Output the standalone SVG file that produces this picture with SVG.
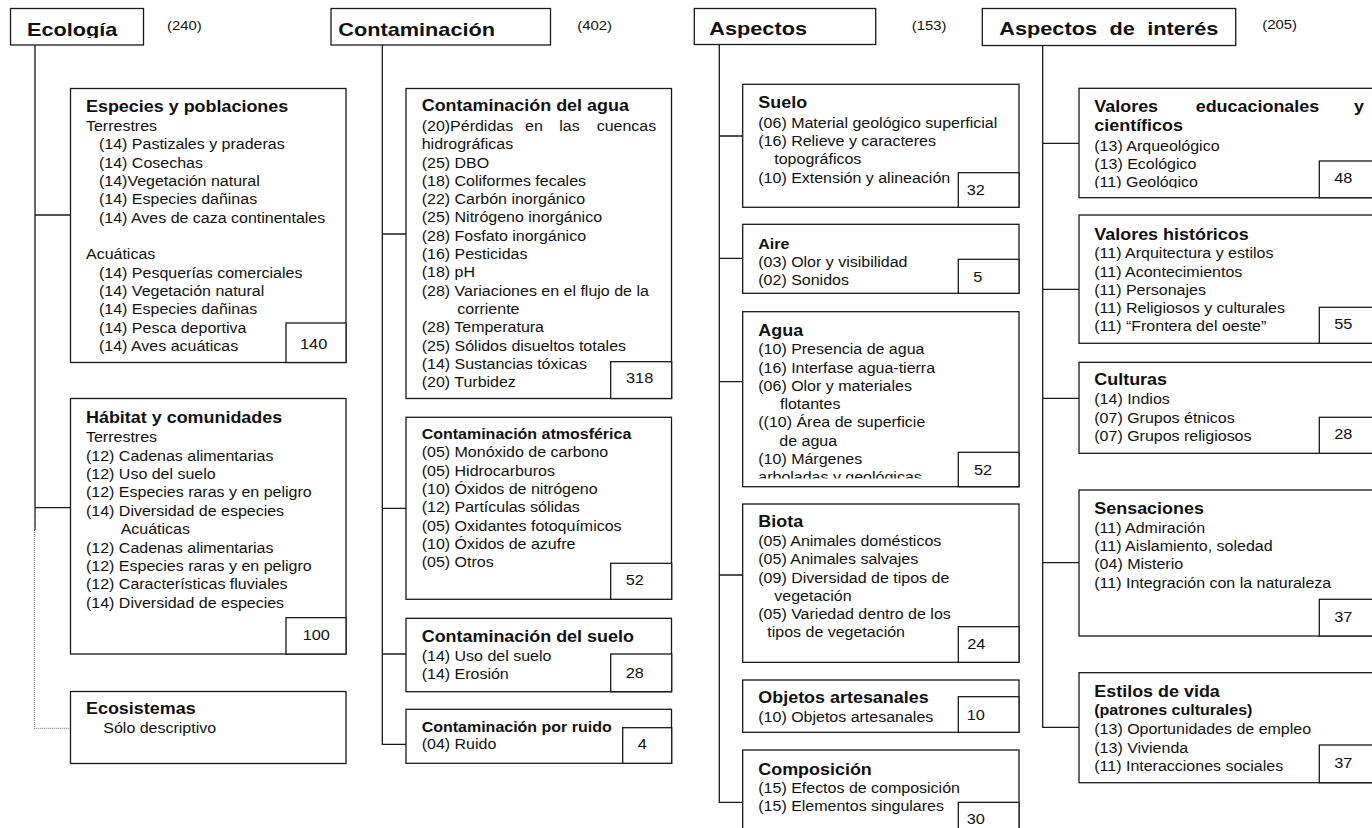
<svg xmlns="http://www.w3.org/2000/svg" width="1372" height="828" viewBox="0 0 1372 828">
<style>
.box{fill:#fff;stroke:#1a1a1a;stroke-width:1.3}
.nb{fill:#fff;stroke:#1a1a1a;stroke-width:1.3}
.ln{fill:none;stroke:#1a1a1a;stroke-width:1.3}
.dot{fill:none;stroke:#8a8a8a;stroke-width:1.2;stroke-dasharray:1 1}
text{font-family:"Liberation Sans",Arial,sans-serif;fill:#111}
.h{font-size:19px;font-weight:bold}
.n{font-size:13px}
.t{font-size:15.7px;font-weight:bold}
.ts{font-size:14px;font-weight:bold}
.b{font-size:14px}
.num{font-size:14.3px}
</style>
<defs>
<clipPath id="chead" clipPathUnits="userSpaceOnUse"><rect x="0" y="0" width="2000" height="38"/></clipPath>
<clipPath id="carb" clipPathUnits="userSpaceOnUse"><rect x="0" y="0" width="2000" height="478.5"/></clipPath>
<clipPath id="cgeo" clipPathUnits="userSpaceOnUse"><rect x="0" y="0" width="2000" height="188.3"/></clipPath>
</defs>
<rect x="0" y="0" width="1372" height="828" fill="#fff"/>

<g id="connectors">
<path class="ln" d="M35 45V530M35 215H70.5M35 507.7H70.5"/>
<path class="dot" d="M34.5 508V728.3H70.5"/>
<path class="ln" d="M382.3 45V744.3H406M382.3 234H406M382.3 508.3H406M382.3 654H406"/>
<path class="ln" d="M719.3 44.5V802.3H742.7M719.3 136H742.7M719.3 258.3H742.7M719.3 381.7H742.7M719.3 575H742.7"/>
<path class="ln" d="M1042.7 45.5V727.3H1079M1042.7 143.3H1079M1042.7 289.3H1079M1042.7 398.3H1079M1042.7 562.7H1079"/>
</g>

<g id="ecologia">
<rect class="box" x="10.5" y="8.5" width="133" height="36.5"/>
<g transform="scale(1.142857,1)"><text class="h" x="23.63" y="36.5" clip-path="url(#chead)">Ecología</text>
<text class="n" x="146.13" y="30">(240)</text></g>
</g>

<g id="especies">
<rect class="box" x="70.5" y="88.5" width="275.5" height="274"/>
<rect class="nb" x="286" y="323" width="60" height="39.5"/>
<g transform="scale(1.142857,1)">
<text class="t" x="75.25" y="111.7">Especies y poblaciones</text>
<text class="b" x="75.25" y="131">Terrestres</text>
<text class="b" x="86.63" y="149.3">(14) Pastizales y praderas</text>
<text class="b" x="86.63" y="167.6">(14) Cosechas</text>
<text class="b" x="86.63" y="186">(14)Vegetación natural</text>
<text class="b" x="86.63" y="204.3">(14) Especies dañinas</text>
<text class="b" x="86.63" y="222.6">(14) Aves de caza continentales</text>
<text class="b" x="75.25" y="259.3">Acuáticas</text>
<text class="b" x="86.63" y="277.6">(14) Pesquerías comerciales</text>
<text class="b" x="86.63" y="296">(14) Vegetación natural</text>
<text class="b" x="86.63" y="314.3">(14) Especies dañinas</text>
<text class="b" x="86.63" y="332.6">(14) Pesca deportiva</text>
<text class="b" x="86.63" y="351">(14) Aves acuáticas</text>
<text class="num" x="262.5" y="349">140</text>
</g>
</g>

<g id="habitat">
<rect class="box" x="70.5" y="398.5" width="275.5" height="255.5"/>
<rect class="nb" x="286" y="617.7" width="60" height="36.3"/>
<g transform="scale(1.142857,1)">
<text class="t" x="75.25" y="423.3">Hábitat y comunidades</text>
<text class="b" x="75.25" y="442.3">Terrestres</text>
<text class="b" x="75.25" y="460.7">(12) Cadenas alimentarias</text>
<text class="b" x="75.25" y="479">(12) Uso del suelo</text>
<text class="b" x="75.25" y="497.3">(12) Especies raras y en peligro</text>
<text class="b" x="75.25" y="516">(14) Diversidad de especies</text>
<text class="b" x="105.61" y="534.3">Acuáticas</text>
<text class="b" x="75.25" y="552.7">(12) Cadenas alimentarias</text>
<text class="b" x="75.25" y="571">(12) Especies raras y en peligro</text>
<text class="b" x="75.25" y="589.3">(12) Características fluviales</text>
<text class="b" x="75.25" y="607.7">(14) Diversidad de especies</text>
<text class="num" x="264.86" y="640">100</text>
</g>
</g>

<g id="ecosistemas">
<rect class="box" x="70.5" y="691.5" width="275.5" height="72"/>
<g transform="scale(1.142857,1)">
<text class="t" x="75.25" y="714.3">Ecosistemas</text>
<text class="b" x="90.39" y="733.3">Sólo descriptivo</text>
</g>
</g>

<g id="contaminacion">
<rect class="box" x="331" y="8.5" width="219.5" height="36.5"/>
<g transform="scale(1.142857,1)"><text class="h" x="296.01" y="36" clip-path="url(#chead)">Contaminación</text>
<text class="n" x="505.14" y="30">(402)</text></g>
</g>

<g id="cont-agua">
<rect class="box" x="406" y="88.5" width="265.5" height="310"/>
<rect class="nb" x="610.7" y="361.7" width="61" height="36.8"/>
<g transform="scale(1.142857,1)">
<text class="t" x="368.99" y="111">Contaminación del agua</text>
<text class="b" y="131"><tspan x="368.99">(20)Pérdidas</tspan><tspan x="459.38">en</tspan><tspan x="489.39">las</tspan><tspan x="522.11">cuencas</tspan></text>
<text class="b" x="368.99" y="149.3">hidrográficas</text>
<text class="b" x="368.99" y="167.6">(25) DBO</text>
<text class="b" x="368.99" y="185.9">(18) Coliformes fecales</text>
<text class="b" x="368.99" y="204.2">(22) Carbón inorgánico</text>
<text class="b" x="368.99" y="222.5">(25) Nitrógeno inorgánico</text>
<text class="b" x="368.99" y="240.8">(28) Fosfato inorgánico</text>
<text class="b" x="368.99" y="259.1">(16) Pesticidas</text>
<text class="b" x="368.99" y="277.4">(18) pH</text>
<text class="b" x="368.99" y="295.7">(28) Variaciones en el flujo de la</text>
<text class="b" x="400.14" y="314">corriente</text>
<text class="b" x="368.99" y="332.3">(28) Temperatura</text>
<text class="b" x="368.99" y="350.6">(25) Sólidos disueltos totales</text>
<text class="b" x="368.99" y="368.9">(14) Sustancias tóxicas</text>
<text class="b" x="368.99" y="387.2">(20) Turbidez</text>
<text class="num" x="547.75" y="383.3">318</text>
</g>
</g>

<g id="cont-atmos">
<rect class="box" x="406" y="417.3" width="265.5" height="182"/>
<rect class="nb" x="610.7" y="563.3" width="61" height="36"/>
<g transform="scale(1.142857,1)">
<text class="ts" x="368.99" y="439">Contaminación atmosférica</text>
<text class="b" x="368.99" y="457.3">(05) Monóxido de carbono</text>
<text class="b" x="368.99" y="475.7">(05) Hidrocarburos</text>
<text class="b" x="368.99" y="494">(10) Óxidos de nitrógeno</text>
<text class="b" x="368.99" y="512.3">(12) Partículas sólidas</text>
<text class="b" x="368.99" y="530.7">(05) Oxidantes fotoquímicos</text>
<text class="b" x="368.99" y="549">(10) Óxidos de azufre</text>
<text class="b" x="368.99" y="567.3">(05) Otros</text>
<text class="num" x="547.49" y="585">52</text>
</g>
</g>

<g id="cont-suelo">
<rect class="box" x="406" y="618.3" width="265.5" height="73.4"/>
<rect class="nb" x="610.7" y="654" width="61" height="37.7"/>
<g transform="scale(1.142857,1)">
<text class="t" x="368.99" y="641.7">Contaminación del suelo</text>
<text class="b" x="368.99" y="660.7">(14) Uso del suelo</text>
<text class="b" x="368.99" y="679.3">(14) Erosión</text>
<text class="num" x="547.49" y="677.7">28</text>
</g>
</g>

<g id="cont-ruido">
<rect class="box" x="406" y="709.3" width="265.5" height="54"/>
<rect class="nb" x="622.7" y="727.7" width="49" height="35.6"/>
<g transform="scale(1.142857,1)">
<text class="ts" x="368.99" y="731.7">Contaminación por ruido</text>
<text class="b" x="368.99" y="749">(04) Ruido</text>
<text class="num" x="557.99" y="749.3">4</text>
</g>
</g>

<g id="aspectos">
<rect class="box" x="694.3" y="8.5" width="181.4" height="36"/>
<g transform="scale(1.142857,1)"><text class="h" x="620.64" y="35.5" clip-path="url(#chead)">Aspectos</text>
<text class="n" x="797.74" y="30">(153)</text></g>
</g>

<g id="asp-suelo">
<rect class="box" x="742.7" y="84.3" width="276.3" height="123"/>
<rect class="nb" x="958.3" y="172.7" width="60.7" height="34.6"/>
<g transform="scale(1.142857,1)">
<text class="t" x="663.51" y="108.3">Suelo</text>
<text class="b" x="663.51" y="127.7">(06) Material geológico superficial</text>
<text class="b" x="663.51" y="146">(16) Relieve y caracteres</text>
<text class="b" x="677.51" y="164.3">topográficos</text>
<text class="b" x="663.51" y="182.6">(10) Extensión y alineación</text>
<text class="num" x="845.86" y="195">32</text>
</g>
</g>

<g id="asp-aire">
<rect class="box" x="742.7" y="224.3" width="276.3" height="69"/>
<rect class="nb" x="958.3" y="259.3" width="60.7" height="34"/>
<g transform="scale(1.142857,1)">
<text class="ts" x="663.51" y="249.5">Aire</text>
<text class="b" x="663.51" y="266.7">(03) Olor y visibilidad</text>
<text class="b" x="663.51" y="285">(02) Sonidos</text>
<text class="num" x="851.64" y="281.7">5</text>
</g>
</g>

<g id="asp-agua">
<rect class="box" x="742.7" y="311.7" width="276.3" height="175"/>
<rect class="nb" x="958.3" y="452.3" width="60.7" height="34.4"/>
<g transform="scale(1.142857,1)">
<text class="t" x="663.51" y="335.7">Agua</text>
<text class="b" x="663.51" y="354.3">(10) Presencia de agua</text>
<text class="b" x="663.51" y="372.6">(16) Interfase agua-tierra</text>
<text class="b" x="663.51" y="390.9">(06) Olor y materiales</text>
<text class="b" x="682.5" y="409.2">flotantes</text>
<text class="b" x="663.51" y="427.5">((10) Área de superficie</text>
<text class="b" x="681.89" y="445.8">de agua</text>
<text class="b" x="663.51" y="464.1">(10) Márgenes</text>
<text class="b" x="663.51" y="482.4" clip-path="url(#carb)">arboladas y geológicas</text>
<text class="num" x="852.25" y="475">52</text>
</g>
</g>

<g id="asp-biota">
<rect class="box" x="742.7" y="504" width="276.3" height="158.3"/>
<rect class="nb" x="958.3" y="626.7" width="60.7" height="35.6"/>
<g transform="scale(1.142857,1)">
<text class="t" x="663.51" y="527.3">Biota</text>
<text class="b" x="663.51" y="546">(05) Animales domésticos</text>
<text class="b" x="663.51" y="564.3">(05) Animales salvajes</text>
<text class="b" x="663.51" y="582.6">(09) Diversidad de tipos de</text>
<text class="b" x="677.51" y="600.9">vegetación</text>
<text class="b" x="663.51" y="619.2">(05) Variedad dentro de los</text>
<text class="b" x="671.39" y="637.5">tipos de vegetación</text>
<text class="num" x="846.39" y="649.3">24</text>
</g>
</g>

<g id="asp-objetos">
<rect class="box" x="742.7" y="680" width="276.3" height="52.3"/>
<rect class="nb" x="958.3" y="696.7" width="60.7" height="35.6"/>
<g transform="scale(1.142857,1)">
<text class="t" x="663.51" y="703.3">Objetos artesanales</text>
<text class="b" x="663.51" y="721.7">(10) Objetos artesanales</text>
<text class="num" x="845.86" y="720">10</text>
</g>
</g>

<g id="asp-composicion">
<rect class="box" x="742.7" y="750" width="276.3" height="100"/>
<rect class="nb" x="958.3" y="802.3" width="60.7" height="50"/>
<g transform="scale(1.142857,1)">
<text class="t" x="663.51" y="775">Composición</text>
<text class="b" x="663.51" y="792.9">(15) Efectos de composición</text>
<text class="b" x="663.51" y="811.2">(15) Elementos singulares</text>
<text class="num" x="845.86" y="824.3">30</text>
</g>
</g>

<g id="aspectos-interes">
<rect class="box" x="982.3" y="8.5" width="253.4" height="37"/>
<g transform="scale(1.142857,1)"><text class="h" x="874.39" y="35.5" clip-path="url(#chead)" style="word-spacing:5.6px">Aspectos de interés</text>
<text class="n" x="1104.51" y="29">(205)</text></g>
</g>

<g id="valores-edu">
<rect class="box" x="1079" y="88.3" width="301" height="109.4"/>
<rect class="nb" x="1319.3" y="161" width="61" height="36.7"/>
<g transform="scale(1.142857,1)">
<text class="t" y="111.7"><tspan x="957.51">Valores</tspan><tspan x="1046.24">educacionales</tspan><tspan x="1184.75">y</tspan></text>
<text class="t" x="957.51" y="131.5">científicos</text>
<text class="b" x="957.51" y="150.7">(13) Arqueológico</text>
<text class="b" x="957.51" y="169">(13) Ecológico</text>
<text class="b" x="957.51" y="187.5" clip-path="url(#cgeo)">(11) Geológico</text>
<text class="num" x="1167.51" y="183.3">48</text>
</g>
</g>

<g id="valores-hist">
<rect class="box" x="1079" y="215" width="301" height="128.3"/>
<rect class="nb" x="1319.3" y="307.3" width="61" height="36"/>
<g transform="scale(1.142857,1)">
<text class="t" x="957.51" y="240">Valores históricos</text>
<text class="b" x="957.51" y="258.3">(11) Arquitectura y estilos</text>
<text class="b" x="957.51" y="276.6">(11) Acontecimientos</text>
<text class="b" x="957.51" y="294.9">(11) Personajes</text>
<text class="b" x="957.51" y="313.2">(11) Religiosos y culturales</text>
<text class="b" x="957.51" y="331.5">(11) “Frontera del oeste”</text>
<text class="num" x="1167.51" y="329.3">55</text>
</g>
</g>

<g id="culturas">
<rect class="box" x="1079" y="362.3" width="301" height="91"/>
<rect class="nb" x="1319.3" y="417.3" width="61" height="36"/>
<g transform="scale(1.142857,1)">
<text class="t" x="957.51" y="385">Culturas</text>
<text class="b" x="957.51" y="404.3">(14) Indios</text>
<text class="b" x="957.51" y="422.6">(07) Grupos étnicos</text>
<text class="b" x="957.51" y="440.9">(07) Grupos religiosos</text>
<text class="num" x="1167.51" y="439.3">28</text>
</g>
</g>

<g id="sensaciones">
<rect class="box" x="1079" y="490" width="301" height="146"/>
<rect class="nb" x="1319.3" y="599.3" width="61" height="36.7"/>
<g transform="scale(1.142857,1)">
<text class="t" x="957.51" y="514">Sensaciones</text>
<text class="b" x="957.51" y="532.7">(11) Admiración</text>
<text class="b" x="957.51" y="551">(11) Aislamiento, soledad</text>
<text class="b" x="957.51" y="569.3">(04) Misterio</text>
<text class="b" x="957.51" y="587.6">(11) Integración con la naturaleza</text>
<text class="num" x="1167.51" y="621.7">37</text>
</g>
</g>

<g id="estilos">
<rect class="box" x="1079" y="672.7" width="301" height="110"/>
<rect class="nb" x="1319.3" y="745" width="61" height="37.7"/>
<g transform="scale(1.142857,1)">
<text class="t" x="957.51" y="696.7">Estilos de vida</text>
<text class="ts" x="957.51" y="715">(patrones culturales)</text>
<text class="b" x="957.51" y="734.3">(13) Oportunidades de empleo</text>
<text class="b" x="957.51" y="752.6">(13) Vivienda</text>
<text class="b" x="957.51" y="770.9">(11) Interacciones sociales</text>
<text class="num" x="1167.51" y="767.7">37</text>
</g>
</g>
</svg>
